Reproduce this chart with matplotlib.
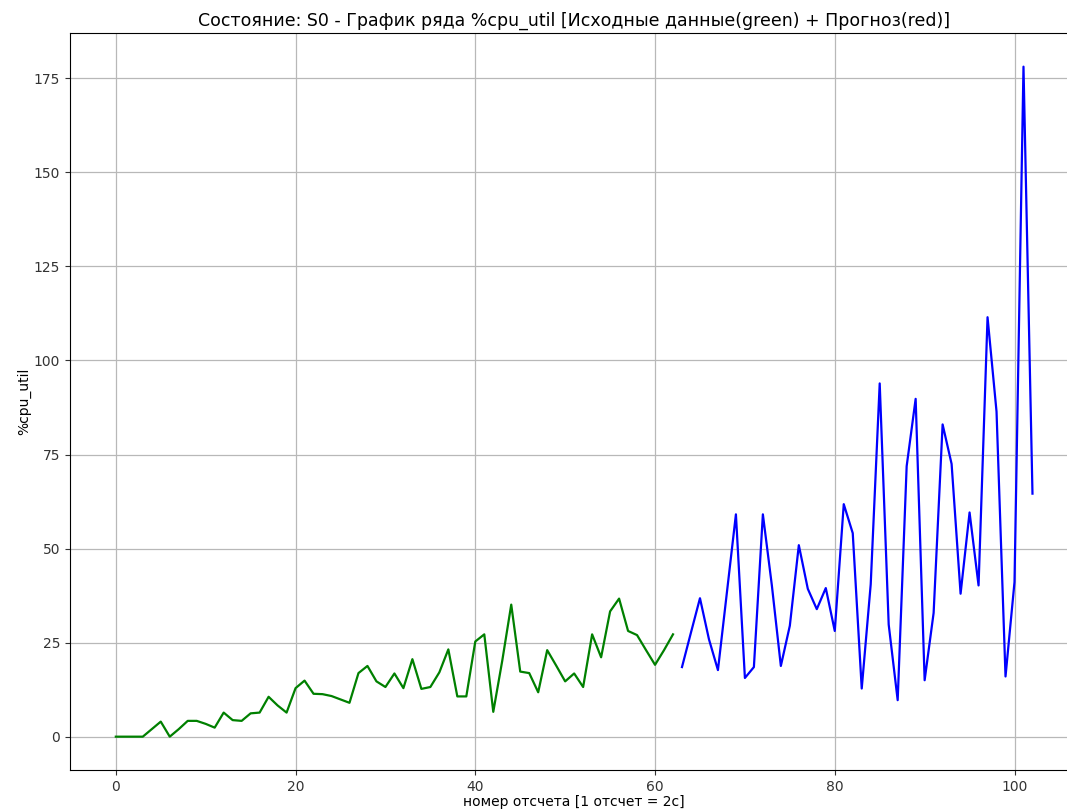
import numpy as np
import matplotlib
matplotlib.use("Agg")
import matplotlib.pyplot as plt

# исходные данные (зелёный)
src_vals = [0, 0, 0, 0, 2, 4, 0, 2, 4.2, 4.2, 3.4, 2.4, 6.4, 4.4, 4.2, 6.2,
            6.4, 10.6, 8.3, 6.4, 12.9, 14.9, 11.4, 11.3, 10.8, 9.9, 9.0, 16.9,
            18.8, 14.7, 13.2, 16.8, 12.9, 20.6, 12.7, 13.2, 17.1, 23.2, 10.7,
            10.7, 25.3, 27.2, 6.6, 20.2, 35.1, 17.3, 16.9, 11.8, 23.0, 18.9,
            14.7, 16.8, 13.2, 27.2, 21.1, 33.3, 36.7, 28.1, 27.0, 23.0, 19.1,
            23.0, 27.2]
# прогноз (синий)
pred_vals = [18.5, 27.7, 36.8, 25.9, 17.7, 38.4, 59.1, 15.6, 18.5, 59.1, 40.2,
             18.8, 29.5, 50.9, 39.3, 33.9, 39.5, 28.1, 61.8, 54.1, 12.8, 40.5,
             93.9, 29.8, 9.7, 71.9, 89.8, 15.0, 32.9, 83.0, 72.5, 38.0, 59.6,
             40.2, 111.5, 86.4, 16.0, 41.1, 178.1, 64.6]

src_x = np.arange(len(src_vals))
pred_x = np.arange(len(src_vals), len(src_vals) + len(pred_vals))

fig = plt.figure(figsize=(10.67, 8.09), dpi=100)
ax = fig.add_axes([0.0656, 0.048, 0.945, 0.911])

ax.plot(src_x, src_vals, color="green", linewidth=1.6)
ax.plot(pred_x, pred_vals, color="blue", linewidth=1.6)

ax.set_title("Состояние: S0 - График ряда %cpu_util [Исходные данные(green) + Прогноз(red)]",
             fontsize=12.5, pad=5)
ax.set_xlabel("номер отсчета [1 отсчет = 2с]", fontsize=10, labelpad=1)
ax.set_ylabel("%cpu_util", fontsize=10, labelpad=2)
ax.tick_params(labelsize=10, colors="#333333")
ax.grid(True, color="#b8b8b8", linewidth=0.9)

fig.savefig("out.png", dpi=100)
